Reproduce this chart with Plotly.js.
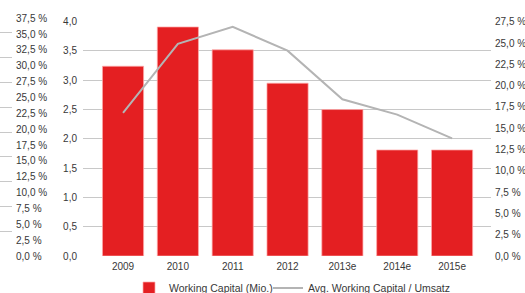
<!DOCTYPE html>
<html>
<head>
<meta charset="utf-8">
<script src="https://cdn.plot.ly/plotly-3.0.1.min.js"></script>
<style>html,body{margin:0;padding:0;background:#fff;}#chart{width:525px;height:293px;}</style>
</head>
<body>
<div id="chart"></div>
<script>
var years = ['2009', '2010', '2011', '2012', '2013e', '2014e', '2015e'];
var workingCapital = [3.24, 3.91, 3.52, 2.95, 2.50, 1.81, 1.81];
var wcRatio = [16.8, 24.9, 26.9, 24.1, 18.4, 16.6, 13.8];
var barName = 'Working Capital (Mio.)';
var lineName = 'Avg. Working Capital / Umsatz';

var W = 525, H = 293;
var font = {family: 'Liberation Sans, Arial, sans-serif', size: 10, color: '#383838'};
var legendFont = {family: 'Liberation Sans, Arial, sans-serif', size: 10.5, color: '#383838'};
var grid = '#c8c8c8';

var traces = [
  {
    type: 'bar', x: years, y: workingCapital, name: barName,
    marker: {color: '#e41f22', line: {color: 'rgba(255,170,170,0.9)', width: 0.8}},
    xaxis: 'x', yaxis: 'y', hoverinfo: 'skip', legend: 'legend'
  },
  {
    type: 'scatter', mode: 'lines', x: years, y: wcRatio, name: lineName,
    line: {color: '#b4b4b4', width: 2},
    xaxis: 'x', yaxis: 'y2', hoverinfo: 'skip', legend: 'legend2'
  },
  // empty traces so that the outer left scale (x3/y3, x3/y4) is drawn
  {type: 'scatter', mode: 'lines', x: [], y: [], xaxis: 'x3', yaxis: 'y3', showlegend: false, hoverinfo: 'skip'},
  {type: 'scatter', mode: 'lines', x: [], y: [], xaxis: 'x3', yaxis: 'y4', showlegend: false, hoverinfo: 'skip'}
];

var layout = {
  width: W, height: H,
  margin: {l: 0, r: 0, t: 0, b: 0, autoexpand: false},
  paper_bgcolor: '#fff', plot_bgcolor: 'rgba(0,0,0,0)',
  font: font,
  separators: ',.',
  bargap: 0.25,
  showlegend: true,
  legend: {orientation: 'h', x: 129 / W, xanchor: 'left', y: 5 / H, yanchor: 'middle',
           font: legendFont, itemwidth: 30, bgcolor: 'rgba(0,0,0,0)'},
  legend2: {orientation: 'h', x: 268 / W, xanchor: 'left', y: 5 / H, yanchor: 'middle',
            font: legendFont, itemwidth: 30, bgcolor: 'rgba(0,0,0,0)'},
  xaxis: {
    domain: [83 / W, 491 / W], range: [-0.73, 6.71], type: 'category',
    showgrid: false, zeroline: false, showline: false, ticks: '',
    tickfont: font, anchor: 'y', ticklabelstandoff: 3, automargin: false
  },
  yaxis: {
    domain: [37 / H, 271.3 / H], range: [0, 4], dtick: 0.5, tickformat: '.1f',
    showgrid: true, gridcolor: grid, gridwidth: 1, zeroline: false, showline: false,
    ticks: '', tickfont: font, anchor: 'x', ticklabelstandoff: 5, automargin: false
  },
  yaxis2: {
    overlaying: 'y', side: 'right', anchor: 'x', range: [0, 27.5], dtick: 2.5,
    tickformat: '.1f', ticksuffix: ' %', showgrid: false, zeroline: false,
    showline: false, ticks: '', tickfont: font, ticklabelstandoff: 3, automargin: false
  },
  xaxis3: {
    domain: [0, 12 / W], anchor: 'y3', range: [0, 1], automargin: false,
    showgrid: false, zeroline: false, showline: false, showticklabels: false, ticks: ''
  },
  yaxis3: {
    domain: [37 / H, (H - 18.3) / H], anchor: 'x3', side: 'right', range: [0, 37.5],
    dtick: 2.5, tickformat: '.1f', ticksuffix: ' %', showgrid: false, zeroline: false,
    showline: false, ticks: '', tickfont: font, ticklabelstandoff: 3, automargin: false
  },
  yaxis4: {
    overlaying: 'y3', anchor: 'x3', range: [0, 9.585], dtick: 1, automargin: false,
    showgrid: true, gridcolor: grid, zeroline: false, showline: false,
    showticklabels: false, ticks: ''
  }
};

Plotly.newPlot('chart', traces, layout, {displayModeBar: false, staticPlot: true});
</script>
</body>
</html>
